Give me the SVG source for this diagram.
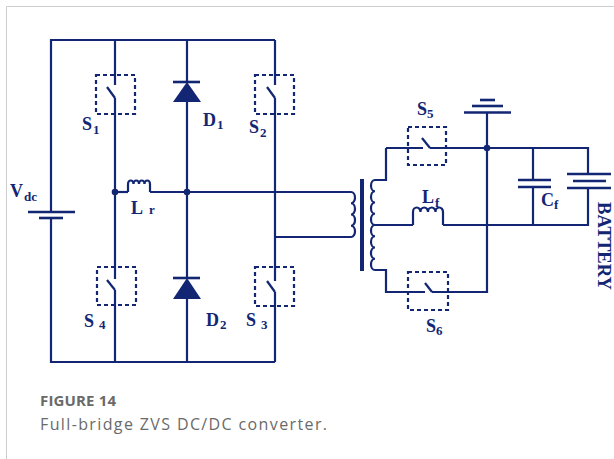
<svg xmlns="http://www.w3.org/2000/svg" width="614" height="459" viewBox="0 0 614 459">
<style>
.w{fill:none;stroke:#122673;stroke-width:2.2;stroke-linejoin:miter;stroke-linecap:butt}
.sw{fill:none;stroke:#122673;stroke-width:2.2;stroke-dasharray:4,3}
.pl{stroke:#122673;stroke-width:2.6}
.dot{fill:#122673}
.lb{font-family:"Liberation Serif",serif;font-weight:bold;fill:#122673;font-size:18px}
.sb{font-family:"Liberation Serif",serif;font-weight:bold;fill:#122673;font-size:13px}
.cap{font-family:"Open Sans",sans-serif;fill:#6a6a6a}
</style>
<rect x="0" y="0" width="614" height="459" fill="#ffffff"/>
<path d="M6.5,459 V6.5 H614" fill="none" stroke="#cccccc" stroke-width="1"/>

<g id="connectors">
<path class="w" d="M51,212 V40 H275"/>
<path class="w" d="M51,218 V362 H275"/>
<path class="w" d="M115,40 V85 M115,98 V279 M115,290 V362"/>
<path class="w" d="M187,40 V82 M187,100 V278 M187,297 V362"/>
<path class="w" d="M275,40 V85 M275,98 V281 M275,292 V362"/>
<path class="w" d="M115,192 H128"/>
<path class="w" d="M150,192 H351"/>
<path class="w" d="M275,237 H351"/>
<path class="w" d="M386,148 V180 H375"/>
<path class="w" d="M375,270 H386 V292 H425"/>
<path class="w" d="M432,292 H487 V113"/>
<path class="w" d="M375,225 H413"/>
<path class="w" d="M443,225 H588 V188"/>
<path class="w" d="M386,148 H423"/>
<path class="w" d="M430,148 H588 V174"/>
<path class="w" d="M533,148 V180 M533,187 V225"/>
<circle class="dot" cx="115" cy="192" r="3.3"/>
<circle class="dot" cx="187" cy="192" r="3.3"/>
<circle class="dot" cx="487" cy="148" r="3.3"/>
</g>

<g id="Vdc">
<line class="pl" x1="28" y1="212" x2="75" y2="212"/>
<line class="pl" x1="39" y1="218" x2="63" y2="218"/>
<text class="lb" x="10" y="197">V</text><text class="sb" x="24" y="201">dc</text>
</g>

<g id="S1">
<rect class="sw" x="96" y="75" width="39" height="39"/>
<line class="w" x1="107" y1="87" x2="115" y2="98"/>
<text class="lb" x="82" y="130">S</text><text class="sb" x="93" y="134">1</text>
</g>
<g id="S2">
<rect class="sw" x="255" y="75" width="39" height="39"/>
<line class="w" x1="267" y1="87" x2="275" y2="98"/>
<text class="lb" x="249" y="133">S</text><text class="sb" x="260" y="137">2</text>
</g>
<g id="S3">
<rect class="sw" x="255" y="267" width="39" height="39"/>
<line class="w" x1="267" y1="281" x2="275" y2="292"/>
<text class="lb" x="246" y="326">S</text><text class="sb" x="261" y="329">3</text>
</g>
<g id="S4">
<rect class="sw" x="97" y="267" width="39" height="38"/>
<line class="w" x1="107" y1="280" x2="115" y2="290"/>
<text class="lb" x="84" y="327">S</text><text class="sb" x="99" y="329">4</text>
</g>

<g id="D1">
<line class="pl" x1="173" y1="82" x2="200" y2="82"/>
<polygon class="dot" points="187,82 173,102 201,102"/>
<text class="lb" x="203" y="126">D</text><text class="sb" x="217" y="129">1</text>
</g>
<g id="D2">
<line class="pl" x1="173" y1="278" x2="200" y2="278"/>
<polygon class="dot" points="187,278 173,299 201,299"/>
<text class="lb" x="206" y="326">D</text><text class="sb" x="220" y="329">2</text>
</g>

<g id="Lr">
<path class="w" d="M128,192 V184 a2.75,3.5 0 0 1 5.5,0 a2.75,3.5 0 0 1 5.5,0 a2.75,3.5 0 0 1 5.5,0 a2.75,3.5 0 0 1 5.5,0 V192"/>
<text class="lb" x="131" y="214">L</text><text class="sb" x="149" y="214">r</text>
</g>

<g id="T">
<path class="w" d="M351,192 a4,5.625 0 0 1 0,11.25 a4,5.625 0 0 1 0,11.25 a4,5.625 0 0 1 0,11.25 a4,5.625 0 0 1 0,11.25"/>
<rect x="360" y="179" width="4" height="92" fill="#122673"/>
<path class="w" d="M375,180 a4,5.625 0 0 0 0,11.25 a4,5.625 0 0 0 0,11.25 a4,5.625 0 0 0 0,11.25 a4,5.625 0 0 0 0,11.25 a4,5.625 0 0 0 0,11.25 a4,5.625 0 0 0 0,11.25 a4,5.625 0 0 0 0,11.25 a4,5.625 0 0 0 0,11.25"/>
</g>

<g id="S5">
<rect class="sw" x="408" y="127" width="38" height="38"/>
<line class="w" x1="422" y1="138" x2="430" y2="148"/>
<text class="lb" x="417" y="115">S</text><text class="sb" x="427" y="118">5</text>
</g>
<g id="S6">
<rect class="sw" x="408" y="272" width="40" height="38"/>
<line class="w" x1="425" y1="283" x2="432" y2="292"/>
<text class="lb" x="426" y="332">S</text><text class="sb" x="436" y="335">6</text>
</g>

<g id="GND">
<line class="pl" x1="480" y1="100" x2="495" y2="100"/>
<line class="pl" x1="472" y1="106" x2="503" y2="106"/>
<line class="pl" x1="464" y1="112.5" x2="511" y2="112.5"/>
</g>

<g id="Lf">
<path class="w" d="M413,225 V212 a3.75,4.5 0 0 1 7.5,0 a3.75,4.5 0 0 1 7.5,0 a3.75,4.5 0 0 1 7.5,0 a3.75,4.5 0 0 1 7.5,0 V225"/>
<text class="lb" x="422" y="203">L</text><text class="sb" x="435" y="207">f</text>
</g>

<g id="Cf">
<line class="pl" x1="518" y1="180" x2="551" y2="180"/>
<line class="pl" x1="518" y1="187" x2="551" y2="187"/>
<text class="lb" x="541" y="206">C</text><text class="sb" x="554" y="209">f</text>
</g>

<g id="BAT">
<line class="pl" x1="567" y1="174" x2="611" y2="174"/>
<line class="pl" x1="573" y1="181" x2="606" y2="181"/>
<line class="pl" x1="567" y1="188" x2="611" y2="188"/>
<text class="lb" transform="translate(598,202) rotate(90)" x="0" y="0" font-size="16" textLength="88" lengthAdjust="spacingAndGlyphs">BATTERY</text>
</g>

<g id="caption">
<text class="cap" x="40" y="406" font-size="15" font-weight="bold" textLength="76" lengthAdjust="spacing">FIGURE 14</text>
<text class="cap" x="40" y="430" font-size="16" textLength="287" lengthAdjust="spacing">Full-bridge ZVS DC/DC converter.</text>
</g>
</svg>
